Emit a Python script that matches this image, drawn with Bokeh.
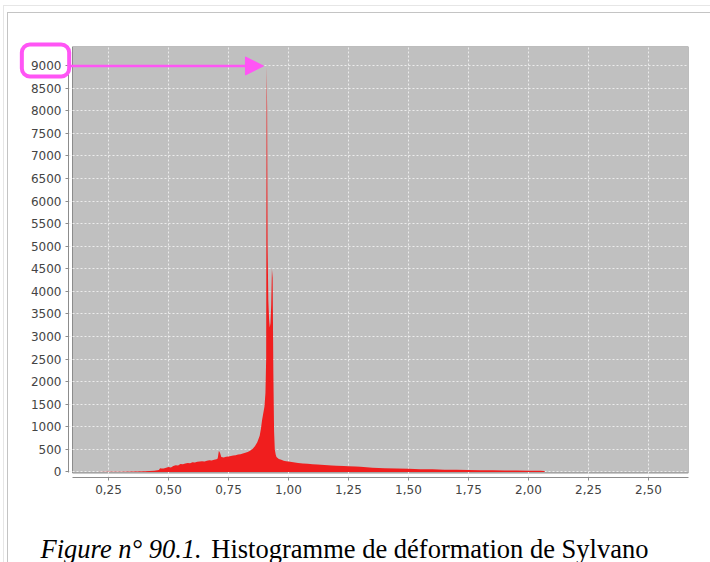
from bokeh.plotting import figure
from bokeh.models import (Range1d, FixedTicker, BoxAnnotation, Arrow, NormalHead, Label)
from bokeh.embed import file_html
from bokeh.resources import INLINE

# --- data ---
deformation = [0.10, 0.20, 0.25, 0.30, 0.35, 0.40, 0.44, 0.46, 0.465, 0.47, 0.48, 0.49, 0.50, 0.51,
               0.52, 0.53, 0.54, 0.55, 0.56, 0.57, 0.58, 0.59, 0.60, 0.61, 0.62, 0.63, 0.64,
               0.65, 0.66, 0.67, 0.68, 0.69, 0.70, 0.705, 0.71, 0.715, 0.72, 0.73, 0.74,
               0.75, 0.76, 0.77, 0.78, 0.79, 0.80, 0.81, 0.82, 0.83, 0.84, 0.85, 0.86,
               0.87, 0.88, 0.885, 0.89, 0.895, 0.900, 0.904, 0.907, 0.909, 0.911, 0.913,
               0.916, 0.919, 0.922, 0.925, 0.928, 0.931, 0.934, 0.937, 0.940, 0.943,
               0.947, 0.95, 0.96, 0.97, 0.98, 0.99, 1.00, 1.02, 1.04, 1.06, 1.08, 1.10,
               1.12, 1.15, 1.18, 1.20, 1.23, 1.25, 1.28, 1.30, 1.35, 1.40, 1.45, 1.50,
               1.55, 1.60, 1.65, 1.70, 1.75, 1.80, 1.85, 1.90, 1.95, 2.00, 2.05, 2.065, 2.07]
counts = [0, 2, 5, 8, 10, 15, 25, 45, 85, 80, 75, 95, 110, 100,
          130, 150, 145, 175, 170, 190, 200, 195, 215, 210, 225, 230, 240,
          235, 250, 260, 255, 270, 280, 300, 470, 420, 330, 320, 340,
          345, 355, 365, 370, 385, 395, 410, 425, 445, 470, 510, 570,
          660, 800, 950, 1150, 1300, 1450, 1750, 2500, 9000, 8100, 5000,
          3800, 3400, 3200, 3300, 3700, 4500, 4300, 2200, 900, 500,
          380, 330, 290, 270, 250, 240, 235, 215, 200, 190, 180, 170,
          165, 155, 145, 140, 135, 125, 120, 115, 95, 85, 78, 70,
          62, 58, 52, 48, 44, 40, 37, 34, 31, 28, 25, 20, 0]

x_ticks = [0.25, 0.50, 0.75, 1.00, 1.25, 1.50, 1.75, 2.00, 2.25, 2.50]
x_tick_labels = ["0,25", "0,50", "0,75", "1,00", "1,25", "1,50", "1,75", "2,00", "2,25", "2,50"]
y_ticks = list(range(0, 9001, 500))

caption_italic = "Figure n° 90.1."
caption_regular = "Histogramme de déformation de Sylvano"

# --- figure ---
X0, X1 = 0.0833, 2.667
Y0, Y1 = -122, 9421
p = figure(width=710, height=562, output_backend="svg", toolbar_location=None,
           x_range=Range1d(X0, X1), y_range=Range1d(Y0, Y1),
           min_border_left=68, min_border_right=22, min_border_top=46, min_border_bottom=85)
p.background_fill_color = "white"
p.border_fill_color = None
p.outline_line_color = None
# light page-frame lines behind the transparent border area
p.styles = {
    "background-color": "white",
    "background-image": ("linear-gradient(#c4c4c4,#c4c4c4), linear-gradient(#c4c4c4,#c4c4c4), "
                         "linear-gradient(#e6e6e6,#e6e6e6), linear-gradient(#e6e6e6,#e6e6e6)"),
    "background-size": "1px 100%, 100% 1px, 1px 100%, 100% 1px",
    "background-position": "7px 12px, 7px 12px, 3px 5px, 3px 5px",
    "background-repeat": "no-repeat",
}

# plot area (offset from axes)
p.add_layout(BoxAnnotation(left=0.10, right=X1, bottom=-22, top=Y1,
                           fill_color="#c0c0c0", fill_alpha=1.0,
                           line_color="#8c8c8c", line_alpha=1.0, line_width=1, level="image"))

p.xgrid.ticker = FixedTicker(ticks=x_ticks)
p.ygrid.ticker = FixedTicker(ticks=y_ticks)
for g in (p.xgrid, p.ygrid):
    g.grid_line_color = "#ececec"
    g.grid_line_dash = "2 2"
    g.grid_line_width = 1

p.varea(x=deformation, y1=0, y2=counts, fill_color="#f01e1e")

p.xaxis.ticker = FixedTicker(ticks=x_ticks)
p.xaxis.major_label_overrides = {t: l for t, l in zip(x_ticks, x_tick_labels)}
p.yaxis.ticker = FixedTicker(ticks=y_ticks)
p.xaxis.bounds = (0.10, X1)
p.yaxis.bounds = (-22, Y1)
for ax in (p.xaxis, p.yaxis):
    ax.axis_line_color = "#8c8c8c"
    ax.major_tick_line_color = "#8c8c8c"
    ax.major_tick_out = 3
    ax.major_tick_in = 0
    ax.minor_tick_line_color = None
    ax.major_label_text_font = "DejaVu Sans"
    ax.major_label_text_font_size = "12px"
    ax.major_label_text_color = "#444444"
    ax.major_label_standoff = 4

# rounded highlight box around the 9000 tick label (a padded, bordered empty label)
p.add_layout(Label(x=-0.0125, y=9111, text=" ", text_font_size="12px",
                   text_align="center", text_baseline="middle",
                   padding=dict(left=22, right=22, top=9, bottom=9),
                   border_line_color="#ff55f5", border_line_width=4, border_radius=8,
                   background_fill_color=None), "above")
p.add_layout(Arrow(x_start=0.0875, y_start=8990, x_end=0.8958, y_end=8990,
                   line_color="#ff55f5", line_width=2.5,
                   end=NormalHead(size=18, fill_color="#ff55f5", line_color="#ff55f5")))

# caption
p.add_layout(Label(x=-0.0334, y=-1716, text=caption_italic,
                   text_font="Liberation Serif", text_font_style="italic",
                   text_font_size="26.5px", text_color="black", text_baseline="alphabetic"), "below")
p.add_layout(Label(x=2.5, y=-1716, text=caption_regular, text_align="right",
                   text_font="Liberation Serif",
                   text_font_size="26.5px", text_color="black", text_baseline="alphabetic"), "below")

open("out.html", "w").write(file_html(p, INLINE))
